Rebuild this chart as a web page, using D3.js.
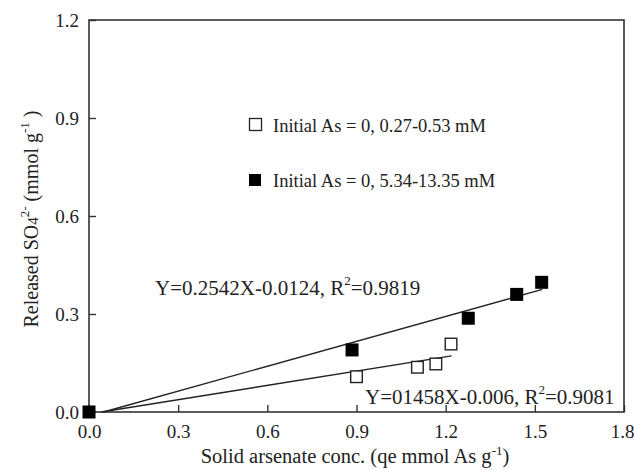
<!DOCTYPE html>
<html><head><meta charset="utf-8">
<script src="https://cdn.jsdelivr.net/npm/d3@7"></script>
<style>body{margin:0;background:#fff}svg{display:block}svg text{font-family:"Liberation Serif","Times New Roman",serif !important;fill:#222}</style>
</head><body><svg id="c" width="634" height="470"></svg>
<script>
const xTicks = [0, 0.3, 0.6, 0.9, 1.2, 1.5, 1.8];
const yTicks = [0, 0.3, 0.6, 0.9, 1.2];
const lowX = [0.90, 1.105, 1.167, 1.218];
const lowY = [0.108, 0.137, 0.147, 0.208];
const highX = [0, 0.885, 1.276, 1.439, 1.523];
const highY = [0, 0.19, 0.287, 0.360, 0.397];
const fitHigh = {slope: 0.2542, intercept: -0.0124, xmax: 1.525};
const fitLow = {slope: 0.1458, intercept: -0.006, xmax: 1.22};
const legendLabels = ["Initial As = 0, 0.27-0.53 mM", "Initial As = 0, 5.34-13.35 mM"];

const SERIF = '"Liberation Serif","Times New Roman",serif';
const svg = d3.select("#c");
const m = {l: 89, r: 624, t: 20, b: 412};
const x = d3.scaleLinear().domain([0, 1.8]).range([m.l, m.r]);
const y = d3.scaleLinear().domain([0, 1.2]).range([m.b, m.t]);

// frame
svg.append("rect").attr("x", m.l).attr("y", m.t).attr("width", m.r - m.l).attr("height", m.b - m.t)
  .attr("fill", "none").attr("stroke", "#333").attr("stroke-width", 1.6);

const fmt = d3.format(".1f");
const xa = svg.append("g").attr("transform", `translate(0,${m.b})`)
  .call(d3.axisBottom(x).tickValues(xTicks).tickFormat(fmt).tickSizeInner(-7).tickSizeOuter(0).tickPadding(13));
const ya = svg.append("g").attr("transform", `translate(${m.l},0)`)
  .call(d3.axisLeft(y).tickValues(yTicks).tickFormat(fmt).tickSizeInner(-7).tickSizeOuter(0).tickPadding(10));
[xa, ya].forEach(a => {
  a.attr("font-family", SERIF);
  a.select(".domain").remove();
  a.selectAll("line").attr("stroke", "#333").attr("stroke-width", 1.4);
  a.selectAll("text").style("font-size", "19px").style("font-family", SERIF).attr("fill", "#222");
});
// keep the last x label inside the picture
xa.selectAll(".tick text").filter(d => d === 1.8).attr("dx", -2);

// fit lines
[fitHigh, fitLow].forEach(f => {
  const x0 = -f.intercept / f.slope;
  svg.append("line").attr("x1", x(x0)).attr("y1", y(0)).attr("x2", x(f.xmax)).attr("y2", y(f.slope * f.xmax + f.intercept))
    .attr("stroke", "#222").attr("stroke-width", 1.4);
});

// points
const hs = 6.5;
svg.selectAll(".hi").data(highX.map((v, i) => [v, highY[i]])).enter().append("rect")
  .attr("x", d => x(d[0]) - hs).attr("y", d => y(d[1]) - hs).attr("width", 2 * hs).attr("height", 2 * hs).attr("fill", "#000");
const ls = 5.8;
svg.selectAll(".lo").data(lowX.map((v, i) => [v, lowY[i]])).enter().append("rect")
  .attr("x", d => x(d[0]) - ls).attr("y", d => y(d[1]) - ls).attr("width", 2 * ls).attr("height", 2 * ls)
  .attr("fill", "#fff").attr("stroke", "#222").attr("stroke-width", 1.4);

// legend
svg.append("rect").attr("x", 249.5).attr("y", 118.5).attr("width", 12).attr("height", 12).attr("fill", "#fff").attr("stroke", "#222").attr("stroke-width", 1.3);
svg.append("rect").attr("x", 249).attr("y", 174).attr("width", 12).attr("height", 12).attr("fill", "#000");
svg.append("text").attr("x", 273).attr("y", 132).style("font-size", "18.5px").text(legendLabels[0]);
svg.append("text").attr("x", 273).attr("y", 187).style("font-size", "18.5px").text(legendLabels[1]);

// equations
function eq(xp, yp, a, b) {
  const t = svg.append("text").attr("x", xp).attr("y", yp).style("font-size", "21px");
  t.append("tspan").text(a + ", R");
  t.append("tspan").attr("dy", -10).style("font-size", "13px").text("2");
  t.append("tspan").attr("dy", 10).text("=" + b);
}
eq(155, 295, "Y=0.2542X-0.0124", "0.9819");
eq(365, 404, "Y=01458X-0.006", "0.9081");

// axis titles
const xt = svg.append("text").attr("x", 355).attr("y", 463).attr("text-anchor", "middle").style("font-size", "20.5px");
xt.append("tspan").text("Solid arsenate conc. (qe mmol As g");
xt.append("tspan").attr("dy", -8).style("font-size", "13px").text("-1");
xt.append("tspan").attr("dy", 8).text(")");

const yt = svg.append("text").attr("transform", "translate(38,219) rotate(-90)").attr("text-anchor", "middle").style("font-size", "20px");
yt.append("tspan").text("Released SO");
yt.append("tspan").style("font-size", "15px").text("4");
yt.append("tspan").attr("dy", -9).style("font-size", "13px").text("2-");
yt.append("tspan").attr("dy", 9).text(" (mmol g");
yt.append("tspan").attr("dy", -9).style("font-size", "13px").text("-1");
yt.append("tspan").attr("dy", 9).text(" )");
</script></body></html>
